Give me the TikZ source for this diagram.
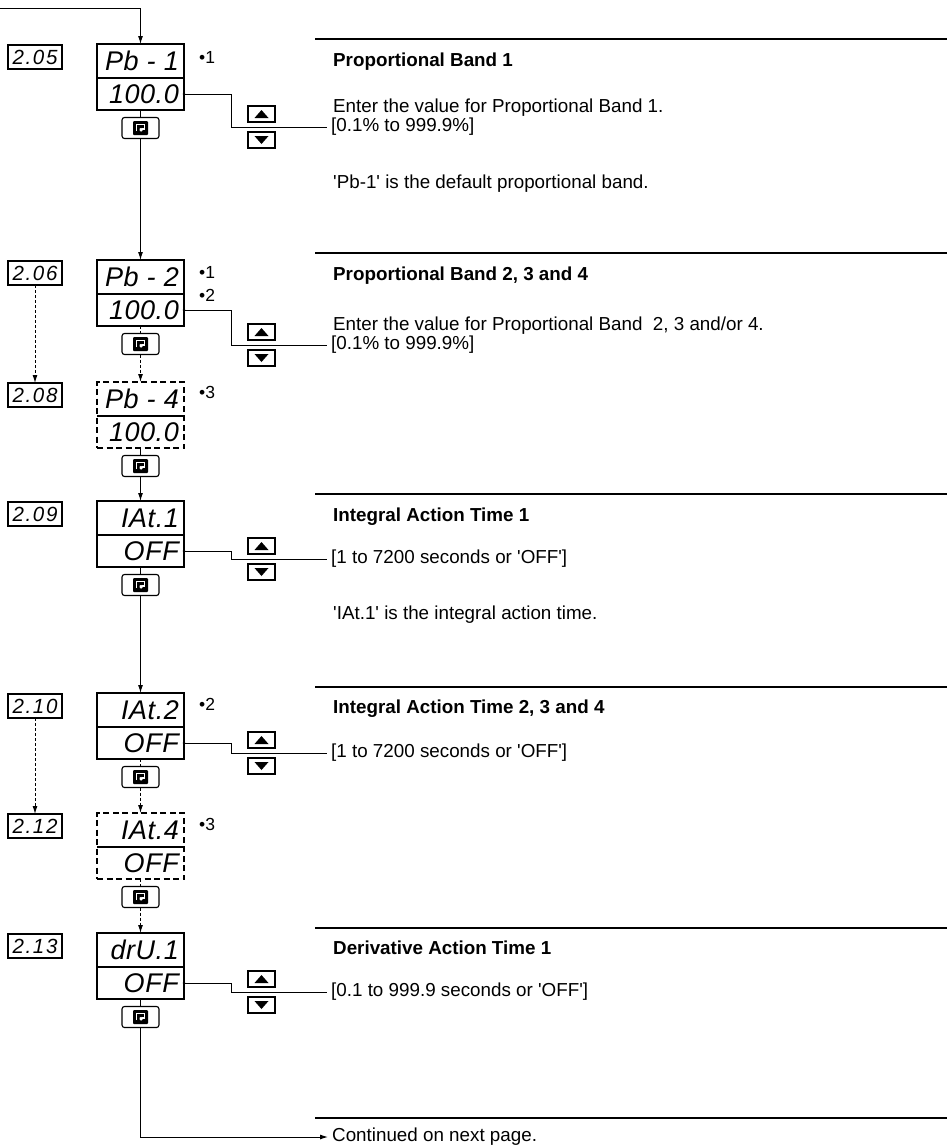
\documentclass[tikz,border=0pt]{standalone}
\usepackage{fontspec}
\usetikzlibrary{arrows.meta}
\newfontfamily\bodyfont{Liberation Sans}
\newfontfamily\segfont{Liberation Sans}[LetterSpace=2]
\newfontfamily\parfont{Liberation Sans}[LetterSpace=8]

\tikzset{
  disp/.style={draw, line width=2.4pt, minimum width=87pt, minimum height=66pt, inner sep=0pt, outer sep=0pt, anchor=north},
  dispdash/.style={disp, line width=2pt, dash pattern=on 6pt off 3.5pt},
  divsolid/.style={line width=1.6pt},
  segtxt/.style={anchor=base east, inner sep=0pt, font=\segfont\itshape\fontsize{27}{27}\selectfont},
  parbox/.style={draw, line width=1.1pt, minimum width=54pt, minimum height=24pt, inner sep=0pt, outer sep=0pt, font=\parfont\itshape\fontsize{20.5}{20.5}\selectfont},
  keybtn/.style={draw, rounded corners=2.5pt, line width=1.1pt, minimum width=37pt, minimum height=21pt, inner sep=0pt, outer sep=0pt,
    path picture={
      \fill[rounded corners=1pt, shift={(path picture bounding box.center)}] (-7.5,-7) rectangle (7.5,7);
      \draw[white, line width=1.6pt, rounded corners=0pt, shift={(path picture bounding box.center)}] (-4,3) -- (-4,-3.5) -- (4,-3.5) -- (4,0.8) -- (1.5,0.8);
      \fill[white, shift={(path picture bounding box.center)}] (-2,0) -- (3.2,0) -- (0.6,5) -- cycle;
    }},
  upbtn/.style={draw, line width=1.1pt, minimum width=27pt, minimum height=16pt, inner sep=0pt, outer sep=0pt,
    path picture={\fill[shift={(path picture bounding box.center)}] (-7,4) -- (7,4) -- (0,-4) -- cycle;}},
  dnbtn/.style={draw, line width=1.1pt, minimum width=27pt, minimum height=16pt, inner sep=0pt, outer sep=0pt,
    path picture={\fill[shift={(path picture bounding box.center)}] (-7,-4) -- (7,-4) -- (0,4) -- cycle;}},
  conn/.style={line width=1pt},
  arr/.style={conn, -{Latex[length=8pt,width=5pt]}},
  dconn/.style={conn, dash pattern=on 3pt off 2pt},
  darr/.style={arr, dash pattern=on 3pt off 2pt},
  rulestyle/.style={line width=1.3pt},
  body/.style={anchor=base west, inner sep=0pt, font=\bodyfont\fontsize{18.8}{22}\selectfont},
  heading/.style={anchor=base west, inner sep=0pt, font=\bodyfont\bfseries\fontsize{18.8}{22}\selectfont},
  valtxt/.style={anchor=west, inner xsep=4pt, inner ysep=0pt, text height=13.5pt, text depth=4pt, font=\bodyfont\fontsize{18.8}{22}\selectfont},
  bul/.style={anchor=west, inner sep=0pt, font=\bodyfont\fontsize{17.5}{19}\selectfont},
}

\newcommand\mkdisp[5]{%
  \node[#5] (#1) at (140.5,#2) {};
  \draw[divsolid] ([yshift=-34pt]#1.north west) -- ([yshift=-34pt]#1.north east);
  \node[segtxt] (#1t) at (179,{#2+26.7}) {#3};
  \node[segtxt] (#1b) at (179,{#2+59.7}) {#4};
}

\begin{document}
\begin{tikzpicture}[x=1pt,y=-1pt]
\useasboundingbox (0,0) rectangle (947,1146);

% displays
\mkdisp{d1}{44}{Pb - 1}{100.0}{disp}
\mkdisp{d2}{260}{Pb - 2}{100.0}{disp}
\mkdisp{d3}{382}{Pb - 4}{100.0}{dispdash}
\mkdisp{d4}{501}{IAt.1}{OFF}{disp}
\mkdisp{d5}{693}{IAt.2}{OFF}{disp}
\mkdisp{d6}{813}{IAt.4}{OFF}{dispdash}
\mkdisp{d7}{933}{drU.1}{OFF}{disp}

% parameter numbers
\node[parbox] (p05) at (35,57) {2.05};
\node[parbox] (p06) at (35,273) {2.06};
\node[parbox] (p08) at (35,395) {2.08};
\node[parbox] (p09) at (35,514) {2.09};
\node[parbox] (p10) at (35,706) {2.10};
\node[parbox] (p12) at (35,826) {2.12};
\node[parbox] (p13) at (35,946) {2.13};

% enter keys
\node[keybtn] (k1) at (140.5,128) {};
\node[keybtn] (k2) at (140.5,344) {};
\node[keybtn] (k3) at (140.5,466) {};
\node[keybtn] (k4) at (140.5,585) {};
\node[keybtn] (k5) at (140.5,777) {};
\node[keybtn] (k6) at (140.5,897) {};
\node[keybtn] (k7) at (140.5,1017) {};

% bullets
\node[bul] (b1) at (199,57) {•1};
\node[bul] (b2) at (199,272) {•1};
\node[bul] (b3) at (199,295) {•2};
\node[bul] (b4) at (199,392) {•3};
\node[bul] (b5) at (199,704) {•2};
\node[bul] (b6) at (199,824) {•3};

% up/down buttons
\node[upbtn] (u1) at (261.5,114) {};
\node[dnbtn] (w1) at (261.5,140) {};
\node[upbtn] (u2) at (261.5,332) {};
\node[dnbtn] (w2) at (261.5,358) {};
\node[upbtn] (u4) at (261.5,546) {};
\node[dnbtn] (w4) at (261.5,572) {};
\node[upbtn] (u5) at (261.5,740) {};
\node[dnbtn] (w5) at (261.5,766) {};
\node[upbtn] (u7) at (261.5,979) {};
\node[dnbtn] (w7) at (261.5,1005) {};

% value range texts
\node[valtxt] (v1) at (327,127) {[0.1\% to 999.9\%]};
\node[valtxt] (v2) at (327,345) {[0.1\% to 999.9\%]};
\node[valtxt] (v4) at (327,559) {[1 to 7200 seconds or 'OFF']};
\node[valtxt] (v5) at (327,753) {[1 to 7200 seconds or 'OFF']};
\node[valtxt] (v7) at (327,992) {[0.1 to 999.9 seconds or 'OFF']};
\node[valtxt] (cont) at (328,1137) {Continued on next page.};

% right-hand descriptions
\draw[rulestyle] (315,39) -- (947,39);
\node[heading] (h1) at (333,66) {Proportional Band 1};
\node[body] (e1) at (333,112.5) {Enter the value for Proportional Band 1.};
\node[body] (n1) at (333,188) {'Pb-1' is the default proportional band.};

\draw[rulestyle] (315,253) -- (947,253);
\node[heading] (h2) at (333,280) {Proportional Band 2, 3 and 4};
\node[body] (e2) at (333,330.5) {Enter the value for Proportional Band\ \ 2, 3 and/or 4.};

\draw[rulestyle] (315,494) -- (947,494);
\node[heading] (h4) at (333,521) {Integral Action Time 1};
\node[body] (n4) at (333,619) {'IAt.1' is the integral action time.};

\draw[rulestyle] (315,687) -- (947,687);
\node[heading] (h5) at (333,713) {Integral Action Time 2, 3 and 4};

\draw[rulestyle] (315,928) -- (947,928);
\node[heading] (h7) at (333,954) {Derivative Action Time 1};

\draw[rulestyle] (315,1118) -- (947,1118);

% value connectors
\foreach \d/\v in {d1/v1, d2/v2, d4/v4, d5/v5, d7/v7}{
  \coordinate (s\d) at ([yshift=-50pt]\d.north east);
  \fill (s\d) circle (1.4pt);
  \draw[conn] (s\d) -- ++(47.5,0) |- (\v.west);
}

% flow connectors
\coordinate (entry) at (0,8);
\draw[arr] (entry) -| (d1.north);
\draw[conn] (d1.south) -- (k1.north);
\draw[arr] (k1.south) -- (d2.north);
\draw[darr] (p06.south) -- (p08.north);
\draw[dconn] (d2.south) -- (k2.north);
\draw[darr] (k2.south) -- (d3.north);
\draw[conn] (d3.south) -- (k3.north);
\draw[arr] (k3.south) -- (d4.north);
\draw[conn] (d4.south) -- (k4.north);
\draw[arr] (k4.south) -- (d5.north);
\draw[darr] (p10.south) -- (p12.north);
\draw[dconn] (d5.south) -- (k5.north);
\draw[darr] (k5.south) -- (d6.north);
\draw[dconn] (d6.south) -- (k6.north);
\draw[darr] (k6.south) -- (d7.north);
\draw[conn] (d7.south) -- (k7.north);
\draw[arr] (k7.south) |- (cont.west);
\end{tikzpicture}
\end{document}
